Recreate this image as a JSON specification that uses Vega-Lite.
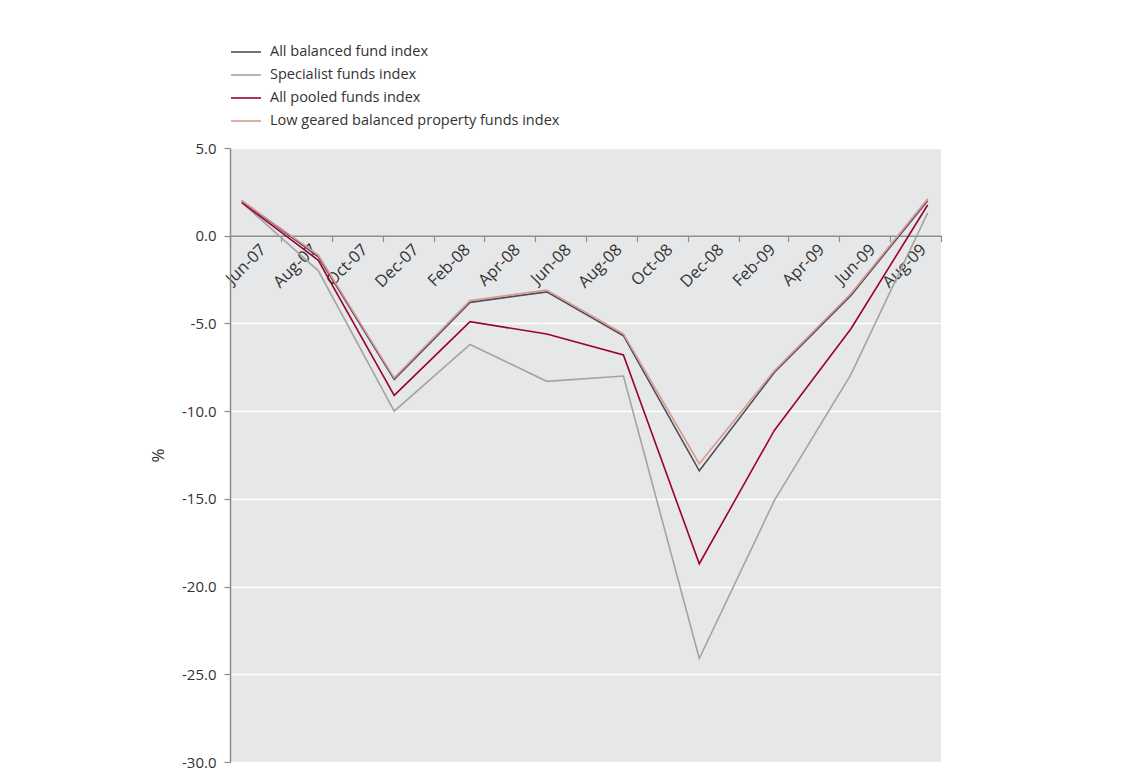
{
  "$schema": "https://vega.github.io/schema/vega-lite/v6.json",
  "width": 711,
  "height": 614,
  "autosize": {"type": "none"},
  "padding": {"left": 230, "top": 148, "right": 181, "bottom": 19},
  "background": "white",
  "config": {
    "font": "Open Sans",
    "view": {"fill": "#e6e7e8", "stroke": null}
  },
  "data": {
    "values": [
      {"date": "2007-06-15", "series": "All balanced fund index", "value": 2.0},
      {"date": "2007-09-15", "series": "All balanced fund index", "value": -1.2},
      {"date": "2007-12-15", "series": "All balanced fund index", "value": -8.2},
      {"date": "2008-03-15", "series": "All balanced fund index", "value": -3.8},
      {"date": "2008-06-15", "series": "All balanced fund index", "value": -3.2},
      {"date": "2008-09-15", "series": "All balanced fund index", "value": -5.7},
      {"date": "2008-12-15", "series": "All balanced fund index", "value": -13.4},
      {"date": "2009-03-15", "series": "All balanced fund index", "value": -7.8},
      {"date": "2009-06-15", "series": "All balanced fund index", "value": -3.4},
      {"date": "2009-09-15", "series": "All balanced fund index", "value": 2.0},
      {"date": "2007-06-15", "series": "Specialist funds index", "value": 1.9},
      {"date": "2007-09-15", "series": "Specialist funds index", "value": -2.0},
      {"date": "2007-12-15", "series": "Specialist funds index", "value": -10.0},
      {"date": "2008-03-15", "series": "Specialist funds index", "value": -6.2},
      {"date": "2008-06-15", "series": "Specialist funds index", "value": -8.3},
      {"date": "2008-09-15", "series": "Specialist funds index", "value": -8.0},
      {"date": "2008-12-15", "series": "Specialist funds index", "value": -24.1},
      {"date": "2009-03-15", "series": "Specialist funds index", "value": -15.1},
      {"date": "2009-06-15", "series": "Specialist funds index", "value": -7.9},
      {"date": "2009-09-15", "series": "Specialist funds index", "value": 1.3},
      {"date": "2007-06-15", "series": "All pooled funds index", "value": 1.9},
      {"date": "2007-09-15", "series": "All pooled funds index", "value": -1.4},
      {"date": "2007-12-15", "series": "All pooled funds index", "value": -9.1},
      {"date": "2008-03-15", "series": "All pooled funds index", "value": -4.9},
      {"date": "2008-06-15", "series": "All pooled funds index", "value": -5.6},
      {"date": "2008-09-15", "series": "All pooled funds index", "value": -6.8},
      {"date": "2008-12-15", "series": "All pooled funds index", "value": -18.7},
      {"date": "2009-03-15", "series": "All pooled funds index", "value": -11.1},
      {"date": "2009-06-15", "series": "All pooled funds index", "value": -5.3},
      {"date": "2009-09-15", "series": "All pooled funds index", "value": 1.75},
      {"date": "2007-06-15", "series": "Low geared balanced property funds index", "value": 2.0},
      {"date": "2007-09-15", "series": "Low geared balanced property funds index", "value": -1.1},
      {"date": "2007-12-15", "series": "Low geared balanced property funds index", "value": -8.1},
      {"date": "2008-03-15", "series": "Low geared balanced property funds index", "value": -3.7},
      {"date": "2008-06-15", "series": "Low geared balanced property funds index", "value": -3.1},
      {"date": "2008-09-15", "series": "Low geared balanced property funds index", "value": -5.6},
      {"date": "2008-12-15", "series": "Low geared balanced property funds index", "value": -13.0},
      {"date": "2009-03-15", "series": "Low geared balanced property funds index", "value": -7.7},
      {"date": "2009-06-15", "series": "Low geared balanced property funds index", "value": -3.3},
      {"date": "2009-09-15", "series": "Low geared balanced property funds index", "value": 2.1}
    ]
  },
  "mark": {"type": "line", "strokeWidth": 1.6, "clip": false},
  "encoding": {
    "x": {
      "field": "date",
      "type": "temporal",
      "scale": {"domain": ["2007-06-01", "2009-10-01"]},
      "axis": {
        "title": null,
        "values": ["2007-06-01", "2007-08-01", "2007-10-01", "2007-12-01", "2008-02-01", "2008-04-01", "2008-06-01", "2008-08-01", "2008-10-01", "2008-12-01", "2009-02-01", "2009-04-01", "2009-06-01", "2009-08-01", "2009-10-01"],
        "format": "%b-%y",
        "labelExpr": "datum.value >= datetime(2009, 9, 1) ? '' : datum.label",
        "offset": -526.3,
        "grid": false,
        "domainColor": "#8c8c8c",
        "domainWidth": 1.5,
        "tickColor": "#8c8c8c",
        "tickWidth": 1.2,
        "tickSize": 6,
        "labelAngle": -45,
        "labelAlign": "right",
        "labelBaseline": "middle",
        "labelOffset": 33,
        "labelPadding": 5,
        "labelFontSize": 16.5,
        "labelColor": "#333333",
        "labelOverlap": false,
        "labelFlush": false
      }
    },
    "y": {
      "field": "value",
      "type": "quantitative",
      "scale": {"domain": [-30, 5], "nice": false},
      "axis": {
        "title": "%",
        "titleFontSize": 17,
        "titleFontWeight": "normal",
        "titleColor": "#333333",
        "titlePadding": 14,
        "values": [5, 0, -5, -10, -15, -20, -25, -30],
        "format": ".1f",
        "labelExpr": "replace(datum.label, '\u2212', '-')",
        "gridColor": "white",
        "gridWidth": 1.5,
        "domainColor": "#8c8c8c",
        "domainWidth": 1.5,
        "tickColor": "#8c8c8c",
        "tickWidth": 1.2,
        "tickSize": 6,
        "labelFontSize": 15,
        "labelColor": "#333333",
        "labelPadding": 8
      }
    },
    "color": {
      "field": "series",
      "type": "nominal",
      "sort": ["All balanced fund index", "Specialist funds index", "All pooled funds index", "Low geared balanced property funds index"],
      "scale": {
        "domain": ["All balanced fund index", "Specialist funds index", "All pooled funds index", "Low geared balanced property funds index"],
        "range": ["#505052", "#a3a3a3", "#9c0034", "#d99a93"]
      },
      "legend": {
        "title": null,
        "orient": "none",
        "legendX": 0,
        "legendY": -112,
        "symbolType": "stroke",
        "symbolSize": 900,
        "symbolStrokeWidth": 1.6,
        "labelFontSize": 14.5,
        "labelColor": "#333333",
        "labelOffset": 8,
        "rowPadding": -5.5,
        "labelLimit": 400
      }
    },
    "strokeWidth": {
      "condition": {"test": "datum.series === 'All pooled funds index'", "value": 2},
      "value": 1.5
    }
  }
}
